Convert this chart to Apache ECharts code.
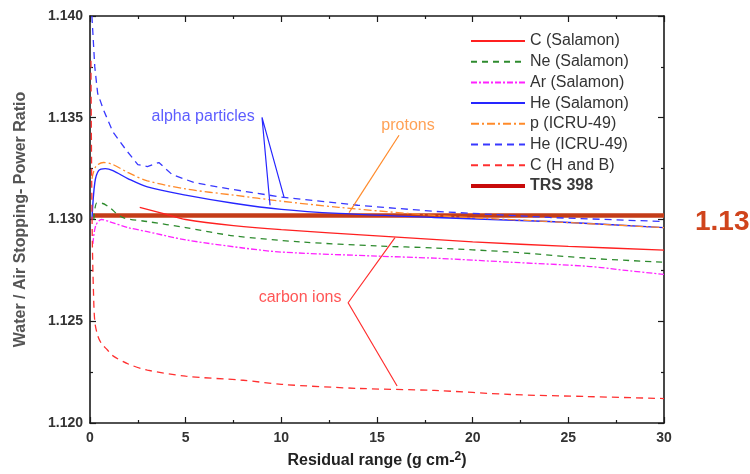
<!DOCTYPE html>
<html>
<head>
<meta charset="utf-8">
<script src="https://cdn.jsdelivr.net/npm/echarts@6/dist/echarts.min.js"></script>
<style>
  html, body { margin: 0; padding: 0; background: #fff; }
  #chart { width: 750px; height: 474px; }
</style>
</head>
<body>
<div id="chart"></div>
<script>
// ---------------- data ----------------
var rangeCSal   = [2.6, 4, 5, 7.5, 10, 15, 20, 25, 30];
var ratioCSal   = [1.1306, 1.13025, 1.1300, 1.1297, 1.1295, 1.1292, 1.1289, 1.12868, 1.1285];

var rangeNeSal  = [0.2, 0.35, 0.6, 1, 1.7, 3, 5, 7.5, 11, 15, 18, 22, 26, 30];
var ratioNeSal  = [1.1300, 1.1308, 1.1308, 1.1306, 1.1301, 1.1299, 1.1296, 1.1292, 1.1289, 1.1287, 1.1286, 1.1284, 1.1281, 1.1279];

var rangeArSal  = [0.15, 0.3, 0.6, 1, 2, 3, 5, 8, 10, 15, 18, 22, 26, 28, 30];
var ratioArSal  = [1.1288, 1.1297, 1.1300, 1.1299, 1.1296, 1.1294, 1.1290, 1.1286, 1.1284, 1.1282, 1.1281, 1.1279, 1.1277, 1.1275, 1.1273];

var rangeHeSal  = [0.1, 0.25, 0.45, 0.8, 1.2, 2, 3, 5, 7.5, 10, 13, 18, 24, 30];
var ratioHeSal  = [1.1300, 1.1318, 1.1324, 1.1325, 1.1324, 1.1320, 1.1316, 1.1312, 1.1308, 1.1305, 1.1303, 1.1301, 1.1299, 1.1296];

var rangePIcru  = [0.1, 0.3, 0.7, 1.2, 2, 3, 5, 7.5, 10, 13, 18, 24, 30];
var ratioPIcru  = [1.1320, 1.1326, 1.1328, 1.1327, 1.1323, 1.1319, 1.1315, 1.1312, 1.1309, 1.1306, 1.1302, 1.1299, 1.1296];

var rangeHeIcru = [0.1, 0.25, 0.4, 0.7, 1.2, 1.9, 2.5, 3.0, 3.6, 4.3, 5.5, 7.3, 10, 14, 18, 24, 30];
var ratioHeIcru = [1.1400, 1.1375, 1.1362, 1.1354, 1.1343, 1.1334, 1.1327, 1.1326, 1.1328, 1.1322, 1.1318, 1.1315, 1.1311, 1.1307, 1.1304, 1.1301, 1.1299];

var rangeCHB    = [0.05, 0.08, 0.12, 0.18, 0.25, 0.4, 0.6, 0.9, 1.2, 2, 3, 5, 8, 10, 14, 18, 22, 26, 30];
var ratioCHB    = [1.1378, 1.1330, 1.1290, 1.1265, 1.1250, 1.1243, 1.1239, 1.1236, 1.1233, 1.1229, 1.1226, 1.1223, 1.1221, 1.1219, 1.1217, 1.1216, 1.1214, 1.1213, 1.1212];

var rangeTRS    = [0.15, 30];
var ratioTRS    = [1.1302, 1.1302];

// annotation pointers (data coordinates)
var alphaPtrX  = [9.41, 8.99, 10.14];
var alphaPtrY  = [1.1307, 1.13502, 1.1311];
var protonPtrX = [16.15, 13.54];
var protonPtrY = [1.13414, 1.13034];
var carbonPtrX = [15.94, 13.49, 16.05];
var carbonPtrY = [1.12911, 1.12591, 1.12182];

var noteTexts  = ['alpha particles', 'protons', 'carbon ions'];
var noteX      = [5.91, 16.62, 10.98];
var noteY      = [1.13507, 1.13463, 1.12616];
var noteColors = ['#3333ff', '#ff8a2a', '#ff2a2a'];

var xTicks = { min: 0, max: 30, step: 5 };
var yTicks = { min: 1.120, max: 1.140, step: 0.005 };

function pairs(xs, ys) {
  var out = [];
  for (var i = 0; i < xs.length; i++) out.push([xs[i], ys[i]]);
  return out;
}

function curve(name, xs, ys, color, type, width, smooth) {
  return {
    name: name,
    type: 'line',
    data: pairs(xs, ys),
    symbol: 'none',
    smooth: smooth,
    lineStyle: { color: color, type: type, width: width },
    itemStyle: { color: color },
    z: 3
  };
}

function pointer(xs, ys, color) {
  return {
    type: 'line',
    data: pairs(xs, ys),
    symbol: 'none',
    silent: true,
    lineStyle: { color: color, width: 1.2 },
    z: 4
  };
}

var series = [
  curve('C (Salamon)',   rangeCSal,   ratioCSal,   '#ff2020', 'solid', 1.3, 0.3),
  curve('Ne (Salamon)',  rangeNeSal,  ratioNeSal,  '#2e8b2e', [6, 5], 1.3, 0.3),
  curve('Ar (Salamon)',  rangeArSal,  ratioArSal,  '#ff22ff', [6, 2, 2, 2], 1.3, 0.3),
  curve('He (Salamon)',  rangeHeSal,  ratioHeSal,  '#2626ff', 'solid', 1.4, 0.3),
  curve('p (ICRU-49)',   rangePIcru,  ratioPIcru,  '#ff8a2a', [8, 3, 2, 3], 1.3, 0.3),
  curve('He (ICRU-49)',  rangeHeIcru, ratioHeIcru, '#3838ff', [7, 5], 1.3, false),
  curve('C (H and B)',   rangeCHB,    ratioCHB,    '#ff3030', [7, 5], 1.3, 0.3),
  {
    name: 'TRS 398',
    type: 'line',
    data: pairs(rangeTRS, ratioTRS),
    symbol: 'none',
    lineStyle: { color: '#c43c18', width: 4.5 },
    itemStyle: { color: '#c40a0a' },
    endLabel: {
      show: true,
      formatter: '1.13',
      distance: 31,
      offset: [0, 7],
      color: '#d0441c',
      fontSize: 28,
      fontWeight: 'bold',
      fontFamily: 'Liberation Sans, Arial'
    },
    z: 2
  },
  pointer(alphaPtrX, alphaPtrY, '#2626ff'),
  pointer(protonPtrX, protonPtrY, '#ff8a2a'),
  pointer(carbonPtrX, carbonPtrY, '#ff3030')
];

// text notes
for (var k = 0; k < noteTexts.length; k++) {
  series.push({
    type: 'scatter',
    silent: true,
    symbolSize: 0,
    data: [[noteX[k], noteY[k]]],
    label: {
      show: true,
      position: 'inside',
      formatter: noteTexts[k],
      color: noteColors[k],
      fontSize: 16,
      fontFamily: 'Liberation Sans, Arial'
    },
    z: 5
  });
}

var legendNames = ['C (Salamon)', 'Ne (Salamon)', 'Ar (Salamon)', 'He (Salamon)',
                   'p (ICRU-49)', 'He (ICRU-49)', 'C (H and B)', 'TRS 398'];
var legendData = legendNames.map(function (n) {
  if (n === 'TRS 398') {
    return { name: n, lineStyle: { color: '#c80a0a', width: 4 }, textStyle: { fontWeight: 'bold', color: '#3a3a3a' } };
  }
  return { name: n };
});

var frameLine = { show: true, onZero: false, lineStyle: { color: '#1a1a1a', width: 1.6 } };
var tick = { show: true, inside: true, length: 6, lineStyle: { color: '#1a1a1a', width: 1.2 } };
var minor = { show: true, splitNumber: 2, length: 3, lineStyle: { color: '#1a1a1a', width: 1.2 } };
var labelStyle = { color: '#333', fontWeight: 'bold', fontSize: 14, fontFamily: 'Liberation Sans, Arial' };

var option = {
  animation: false,
  backgroundColor: '#fff',
  grid: { left: 90, right: 86, top: 16, bottom: 51, containLabel: false, outerBoundsMode: 'none' },
  legend: {
    data: legendData,
    orient: 'vertical',
    left: 464,
    top: 28,
    itemWidth: 54,
    itemHeight: 16,
    itemGap: 4.7,
    selectedMode: false,
    itemStyle: { opacity: 0 },
    textStyle: { color: '#333', fontSize: 16, lineHeight: 16, fontFamily: 'Liberation Sans, Arial' }
  },
  xAxis: [
    {
      type: 'value',
      position: 'bottom',
      min: xTicks.min, max: xTicks.max, interval: xTicks.step,
      name: 'Residual range (g cm-{sup|2})',
      nameLocation: 'middle',
      nameGap: 28,
      nameTextStyle: {
        color: '#222', fontWeight: 'bold', fontSize: 16, fontFamily: 'Liberation Sans, Arial',
        rich: { sup: { fontSize: 12, fontWeight: 'bold', color: '#222', padding: [0, 0, 8, 0] } }
      },
      axisLine: frameLine,
      axisTick: tick,
      minorTick: minor,
      splitLine: { show: false },
      axisLabel: Object.assign({ margin: 8 }, labelStyle)
    },
    {
      type: 'value',
      position: 'top',
      min: xTicks.min, max: xTicks.max, interval: xTicks.step,
      axisLine: frameLine,
      axisTick: tick,
      minorTick: minor,
      splitLine: { show: false },
      axisLabel: { show: false }
    }
  ],
  yAxis: [
    {
      type: 'value',
      position: 'left',
      min: yTicks.min, max: yTicks.max, interval: yTicks.step,
      name: 'Water / Air Stopping- Power Ratio',
      nameLocation: 'middle',
      nameGap: 61,
      nameTextStyle: { color: '#555', fontWeight: 'bold', fontSize: 16, fontFamily: 'Liberation Sans, Arial' },
      axisLine: frameLine,
      axisTick: tick,
      minorTick: minor,
      splitLine: { show: false },
      axisLabel: Object.assign({
        margin: 7,
        formatter: function (v) { return v.toFixed(3); }
      }, labelStyle)
    },
    {
      type: 'value',
      position: 'right',
      min: yTicks.min, max: yTicks.max, interval: yTicks.step,
      axisLine: frameLine,
      axisTick: tick,
      minorTick: minor,
      splitLine: { show: false },
      axisLabel: { show: false }
    }
  ],
  series: series
};

var chart = echarts.init(document.getElementById('chart'));
chart.setOption(option);
</script>
</body>
</html>
